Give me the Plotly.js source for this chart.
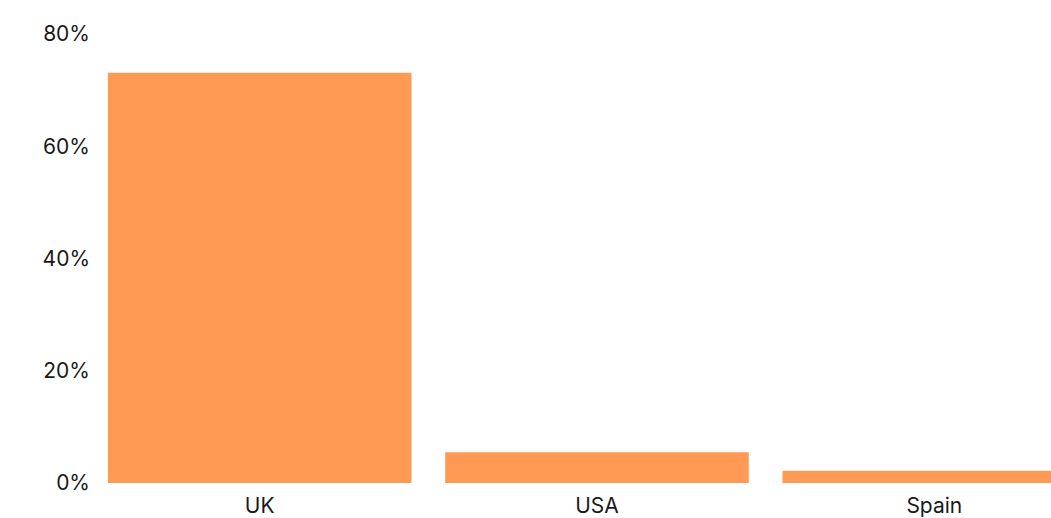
<!DOCTYPE html>
<html>
<head>
<meta charset="utf-8">
<script src="https://cdn.plot.ly/plotly-3.0.1.min.js"></script>
<style>html,body{margin:0;padding:0;background:#fff;}#chart{width:1051px;height:518px;}</style>
</head>
<body>
<div id="chart"></div>
<script>
const categories = ["UK", "USA", "Spain"];
const shares = [73.1, 5.5, 2.2];
const tickValues = [0, 20, 40, 60, 80];
const tickLabels = ["0%", "20%", "40%", "60%", "80%"];

const data = [{
  type: "bar",
  x: categories,
  y: shares,
  marker: {color: "#FF9A55", line: {width: 0}},
  hoverinfo: "x+y"
}];

const layout = {
  width: 1051,
  height: 518,
  margin: {l: 91, r: 0, t: 34, b: 35, pad: 0},
  paper_bgcolor: "#ffffff",
  plot_bgcolor: "#ffffff",
  bargap: 0.1,
  showlegend: false,
  font: {family: "Inter, 'Noto Sans', sans-serif", size: 21, color: "#1a1a1a"},
  xaxis: {
    type: "category",
    range: [-0.5, 2.346],
    showgrid: false,
    zeroline: false,
    showline: false,
    ticks: "",
    ticklabelstandoff: 8,
    tickfont: {size: 21}
  },
  yaxis: {
    range: [0, 80],
    tickvals: tickValues,
    ticktext: tickLabels,
    showgrid: false,
    zeroline: false,
    showline: false,
    ticks: "",
    tickfont: {size: 21}
  }
};

Plotly.newPlot("chart", data, layout, {displayModeBar: false, staticPlot: true});
</script>
</body>
</html>
